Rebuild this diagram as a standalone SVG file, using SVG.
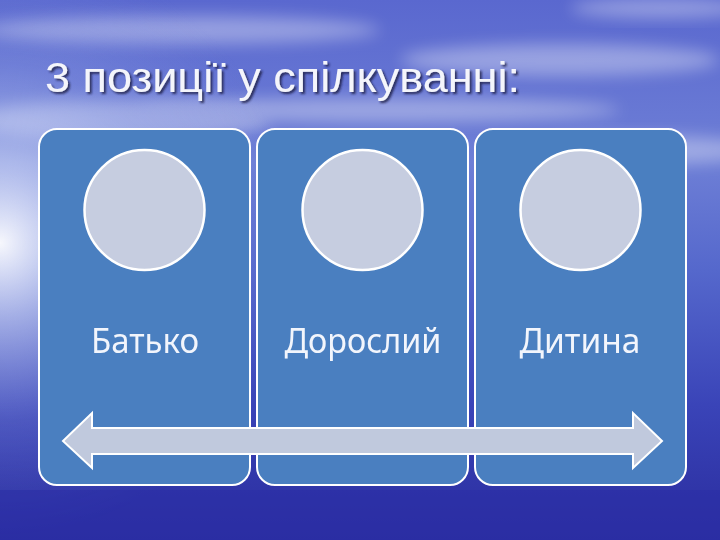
<svg xmlns="http://www.w3.org/2000/svg" width="720" height="540" viewBox="0 0 720 540">
<defs>
<linearGradient id="sky" x1="0" y1="0" x2="0" y2="1">
<stop offset="0" stop-color="#5a68cf"/>
<stop offset="0.3" stop-color="#6e7fd6"/>
<stop offset="0.5" stop-color="#5568cc"/>
<stop offset="0.75" stop-color="#3a44b8"/>
<stop offset="1" stop-color="#2a2c9e"/>
</linearGradient>
<radialGradient id="glow" cx="0" cy="0.45" r="0.55" gradientTransform="scale(0.75 1)">
<stop offset="0" stop-color="#ffffff" stop-opacity="0.95"/>
<stop offset="0.25" stop-color="#dfe6fb" stop-opacity="0.6"/>
<stop offset="0.6" stop-color="#a8b8ee" stop-opacity="0.2"/>
<stop offset="1" stop-color="#8090e0" stop-opacity="0"/>
</radialGradient>
<filter id="blur" x="-20%" y="-50%" width="140%" height="200%"><feGaussianBlur stdDeviation="8"/></filter>
<filter id="shadow" x="-5%" y="-20%" width="110%" height="140%">
<feDropShadow dx="2" dy="2" stdDeviation="0.8" flood-color="#1a1a40" flood-opacity="0.8"/>
</filter>
<style>
.panel{fill:#4a7fc0;stroke:#ffffff;stroke-width:2}
.circ{fill:#c6cde0;stroke:#ffffff;stroke-width:2.5}
.lbl{font-family:"Noto Sans","Open Sans","DejaVu Sans",sans-serif;font-size:34px;fill:#f2f5fc;text-anchor:middle}
.title{font-family:"Liberation Sans",Arial,sans-serif;font-size:42px;fill:#f4f5fb}
.cloud{fill:#ffffff;filter:url(#blur)}
</style>
</defs>
<rect width="720" height="540" fill="url(#sky)"/>
<g opacity="0.35">
<ellipse class="cloud" cx="180" cy="30" rx="200" ry="14"/>
<ellipse class="cloud" cx="560" cy="60" rx="160" ry="16"/>
<ellipse class="cloud" cx="380" cy="110" rx="240" ry="12"/>
<ellipse class="cloud" cx="640" cy="150" rx="120" ry="14"/>
<ellipse class="cloud" cx="120" cy="120" rx="150" ry="20"/>
<ellipse class="cloud" cx="660" cy="8" rx="90" ry="10"/>
</g>
<rect width="720" height="540" fill="url(#glow)"/>
<rect x="0" y="490" width="720" height="50" fill="#2b2fa6" opacity="0.6"/>
<text class="title" x="45" y="92" textLength="475" lengthAdjust="spacingAndGlyphs" filter="url(#shadow)">3 позиції  у спілкуванні:</text>
<g id="node-batko">
<rect class="panel" x="39" y="129" width="211" height="356" rx="18"/>
<circle class="circ" cx="144.5" cy="210" r="60"/>
<text class="lbl" x="145" y="353" textLength="108" lengthAdjust="spacingAndGlyphs">Батько</text>
</g>
<g id="node-doroslyi">
<rect class="panel" x="257" y="129" width="211" height="356" rx="18"/>
<circle class="circ" cx="362.5" cy="210" r="60"/>
<text class="lbl" x="363" y="353" textLength="157" lengthAdjust="spacingAndGlyphs">Дорослий</text>
</g>
<g id="node-dytyna">
<rect class="panel" x="475" y="129" width="211" height="356" rx="18"/>
<circle class="circ" cx="580.5" cy="210" r="60"/>
<text class="lbl" x="580" y="353" textLength="121" lengthAdjust="spacingAndGlyphs">Дитина</text>
</g>
<g id="connectors">
<path d="M63,441 L92,413 L92,428 L633,428 L633,413 L662,441 L633,468 L633,454 L92,454 L92,468 Z" fill="#c0c9dd" stroke="#ffffff" stroke-width="2" stroke-linejoin="miter"/>
</g>
</svg>
